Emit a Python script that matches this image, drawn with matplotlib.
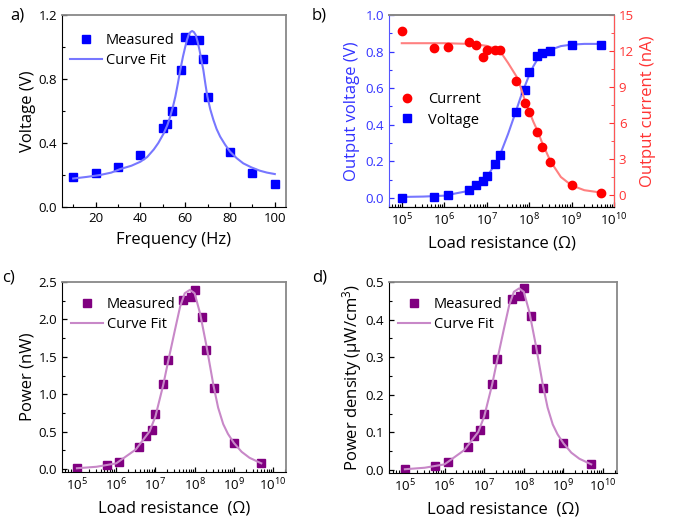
import numpy as np
import matplotlib
matplotlib.use('Agg')
import matplotlib.pyplot as plt
from matplotlib.ticker import MultipleLocator, LogLocator, NullFormatter

plt.rcParams['font.family'] = ['Open Sans', 'DejaVu Sans']
plt.rcParams['mathtext.fontset'] = 'custom'
plt.rcParams['mathtext.rm'] = 'Open Sans'
plt.rcParams['mathtext.it'] = 'Open Sans:italic'
plt.rcParams['xtick.direction'] = 'in'
plt.rcParams['ytick.direction'] = 'in'
plt.rcParams['xtick.labelsize'] = 9.5
plt.rcParams['ytick.labelsize'] = 9.5

# a) voltage vs frequency
freq = [10, 20, 30, 40, 50, 52, 54, 58, 60, 62, 66, 68, 70, 80, 90, 100]
volt = [0.185, 0.21, 0.253, 0.324, 0.493, 0.516, 0.60, 0.859, 1.063, 1.042,
        1.046, 0.922, 0.688, 0.341, 0.215, 0.145]
freq_fit = [10, 16, 22, 27, 31, 36, 40, 43, 46, 48, 50.4, 52, 53.3, 54.5, 55.6,
            56.7, 57.8, 59, 60, 60.8, 61.5, 62.3, 63.1, 63.9, 64.7, 65.5, 66.4,
            67.2, 68.1, 69, 69.9, 71.2, 72.6, 74, 75.6, 77.8, 80, 83, 85.9,
            89.5, 93.3, 96.5, 100]
volt_fit = [0.178, 0.188, 0.20, 0.215, 0.237, 0.258, 0.283, 0.312, 0.36, 0.40,
            0.46, 0.51, 0.565, 0.625, 0.69, 0.77, 0.856, 0.94, 1.0, 1.045,
            1.075, 1.093, 1.10, 1.093, 1.075, 1.035, 0.98, 0.92, 0.856, 0.77,
            0.69, 0.61, 0.544, 0.488, 0.44, 0.39, 0.346, 0.305, 0.273, 0.248,
            0.227, 0.215, 0.206]

# b, c, d) load resistance sweep
res = [1e5, 5.8e5, 1.2e6, 3.8e6, 5.7e6, 8e6, 1e7, 1.6e7, 2.1e7, 5e7, 8e7, 1e8,
       1.5e8, 2e8, 3.1e8, 1e9, 5e9]
out_volt = [0.0, 0.007, 0.017, 0.044, 0.07, 0.09, 0.12, 0.186, 0.237, 0.47,
            0.592, 0.691, 0.778, 0.794, 0.803, 0.838, 0.838]
out_curr = [13.63, 12.26, 12.35, 12.77, 12.51, 11.54, 12.07, 12.07, 12.07, 9.5,
            7.68, 6.9, 5.22, 4.02, 2.71, 0.84, 0.2]
power = [0.013, 0.054, 0.098, 0.299, 0.446, 0.522, 0.732, 1.134, 1.451, 2.254,
         2.295, 2.393, 2.027, 1.585, 1.08, 0.353, 0.076]
power_dens = [0.0036, 0.0116, 0.0205, 0.0606, 0.09, 0.106, 0.148, 0.23, 0.294,
              0.4545, 0.464, 0.485, 0.41, 0.321, 0.219, 0.072, 0.016]

# fitted curves
res_fit = [1e5, 3.2e5, 1e6, 3.2e6, 5.6e6, 1e7, 1.6e7, 2.1e7, 3.2e7, 5e7, 6.3e7,
           7.9e7, 1e8, 1.26e8, 1.6e8, 2e8, 3.2e8, 5.6e8, 1e9, 2e9, 5e9]
volt_fit_b = [0.005, 0.007, 0.012, 0.035, 0.06, 0.11, 0.19, 0.24, 0.35, 0.48,
              0.55, 0.61, 0.67, 0.72, 0.76, 0.785, 0.81, 0.83, 0.838, 0.842, 0.842]
curr_fit = [12.65, 12.65, 12.65, 12.6, 12.55, 12.43, 12.2, 11.95, 11.0, 9.9,
            9.0, 7.9, 7.0, 6.1, 5.3, 4.4, 2.8, 1.5, 0.8, 0.4, 0.2]

res_fit_p = [1e5, 3.16e5, 1e6, 3.16e6, 7.08e6, 1e7, 1.58e7, 2.14e7, 3.16e7,
             4.27e7, 5.62e7, 7.59e7, 1e8, 1.38e8, 2e8, 3.02e8, 3.98e8, 5.37e8,
             7.08e8, 1e9, 1.58e9, 2.51e9, 5.01e9]
power_fit = [0.01, 0.03, 0.075, 0.26, 0.5, 0.70, 1.12, 1.45, 1.86, 2.17, 2.35,
             2.395, 2.35, 2.08, 1.65, 1.12, 0.82, 0.6, 0.47, 0.35, 0.23, 0.15, 0.076]
dens_fit = [0.002, 0.006, 0.015, 0.053, 0.101, 0.142, 0.226, 0.293, 0.376,
            0.438, 0.474, 0.483, 0.474, 0.42, 0.333, 0.226, 0.166, 0.121,
            0.095, 0.071, 0.046, 0.03, 0.015]

W, H = 681, 522
fig = plt.figure(figsize=(W / 100, H / 100), dpi=100)


def box(l, t, r, b):
    return [l / W, (H - b) / H, (r - l) / W, (b - t) / H]


def style(ax, right_gray=True):
    for s in ['left', 'bottom']:
        ax.spines[s].set_color('black')
    ax.spines['top'].set_color('#888888')
    ax.spines['top'].set_linewidth(1.3)
    if right_gray:
        ax.spines['right'].set_color('#888888')
        ax.spines['right'].set_linewidth(1.3)
    ax.tick_params(which='major', length=3.5, width=0.9, top=False, right=False)
    ax.tick_params(which='minor', length=2, width=0.8, top=False, right=False)


def log_x(ax):
    ax.set_xscale('log')
    ax.xaxis.set_major_locator(LogLocator(base=10, numticks=10))
    ax.xaxis.set_minor_locator(LogLocator(base=10, subs=np.arange(2, 10), numticks=20))
    ax.xaxis.set_minor_formatter(NullFormatter())


blue = '#0000ff'
blue_fit = '#7777ff'
red = '#ff0000'
red_fit = '#ff8080'
purple = '#800080'
purple_fit = '#c888c8'
lab = 12
leg_kw = dict(loc='upper left', frameon=False, fontsize=10.5,
              handlelength=2.2, handletextpad=0.3, labelspacing=0.35)

# a)
ax1 = fig.add_axes(box(62, 15, 286, 207))
ax1.plot(freq, volt, 's', color=blue, ms=5.5, ls='none', label='Measured')
ax1.plot(freq_fit, volt_fit, '-', color=blue_fit, lw=1.5, label='Curve Fit')
ax1.set_xlim(5, 105)
ax1.set_ylim(0, 1.2)
ax1.xaxis.set_major_locator(MultipleLocator(20))
ax1.xaxis.set_minor_locator(MultipleLocator(10))
ax1.yaxis.set_major_locator(MultipleLocator(0.4))
ax1.yaxis.set_minor_locator(MultipleLocator(0.2))
ax1.yaxis.set_major_formatter(lambda v, p: f'{v:.1f}')
ax1.set_xlabel('Frequency (Hz)', fontsize=lab, labelpad=5)
ax1.set_ylabel('Voltage (V)', fontsize=lab, labelpad=1.5)
style(ax1)
ax1.legend(bbox_to_anchor=(-0.025, 0.975), **leg_kw)

# b)
ax2 = fig.add_axes(box(389, 15, 614, 207))
log_x(ax2)
ax2.plot(res_fit, volt_fit_b, '-', color=blue_fit, lw=1.5)
v_pts, = ax2.plot(res, out_volt, 's', color=blue, ms=5.5, ls='none', label='Voltage')
ax2.set_xlim(5e4, 1e10)
ax2.set_ylim(-0.05, 1.0)
ax2.yaxis.set_major_locator(MultipleLocator(0.2))
ax2.yaxis.set_minor_locator(MultipleLocator(0.1))
ax2.yaxis.set_major_formatter(lambda v, p: f'{v:.1f}')
ax2.set_xlabel('Load resistance (\u03a9)', fontsize=lab, labelpad=5)
ax2.set_ylabel('Output voltage (V)', fontsize=lab, color='#3333ff')
style(ax2, right_gray=False)
ax2.spines['left'].set_color('#5555ff')
ax2.tick_params(axis='y', which='both', colors='#3333ff')

ax2r = ax2.twinx()
ax2r.plot(res_fit, curr_fit, '-', color=red_fit, lw=1.5)
c_pts, = ax2r.plot(res, out_curr, 'o', color=red, ms=6, ls='none', label='Current')
ax2r.set_ylim(-1, 15)
ax2r.yaxis.set_major_locator(MultipleLocator(3))
ax2r.yaxis.set_minor_locator(MultipleLocator(1.5))
ax2r.set_ylabel('Output current (nA)', fontsize=lab, color='#ff3333')
ax2r.spines['right'].set_color('#ff5555')
ax2r.spines['left'].set_visible(False)
ax2r.spines['top'].set_color('#888888')
ax2r.spines['top'].set_linewidth(1.3)
ax2r.tick_params(axis='y', which='major', length=3.5, colors='#ff3333')
ax2r.tick_params(axis='y', which='minor', length=2, colors='#ff3333')
ax2.legend(handles=[c_pts, v_pts], loc='upper left', bbox_to_anchor=(-0.045, 0.665),
           frameon=False, fontsize=10.5, handletextpad=0.5, labelspacing=0.35)

# c)
ax3 = fig.add_axes(box(62, 282, 286, 472))
log_x(ax3)
ax3.plot(res, power, 's', color=purple, ms=5.5, ls='none', label='Measured')
ax3.plot(res_fit_p, power_fit, '-', color=purple_fit, lw=1.5, label='Curve Fit')
ax3.set_xlim(10 ** 4.62, 10 ** 10.33)
ax3.set_ylim(-0.04, 2.5)
ax3.yaxis.set_major_locator(MultipleLocator(0.5))
ax3.yaxis.set_minor_locator(MultipleLocator(0.25))
ax3.yaxis.set_major_formatter(lambda v, p: f'{v:.1f}')
ax3.set_xlabel('Load resistance  (\u03a9)', fontsize=lab, labelpad=5)
ax3.set_ylabel('Power (nW)', fontsize=lab, labelpad=2)
style(ax3)
ax3.legend(bbox_to_anchor=(-0.02, 0.99), **leg_kw)

# d)
ax4 = fig.add_axes(box(389, 282, 617, 473))
log_x(ax4)
ax4.plot(res, power_dens, 's', color=purple, ms=5.5, ls='none', label='Measured')
ax4.plot(res_fit_p, dens_fit, '-', color=purple_fit, lw=1.5, label='Curve Fit')
ax4.set_xlim(10 ** 4.6, 10 ** 10.35)
ax4.set_ylim(-0.008, 0.5)
ax4.yaxis.set_major_locator(MultipleLocator(0.1))
ax4.yaxis.set_minor_locator(MultipleLocator(0.05))
ax4.yaxis.set_major_formatter(lambda v, p: f'{v:.1f}')
ax4.set_xlabel('Load resistance  (\u03a9)', fontsize=lab, labelpad=5)
ax4.set_ylabel('Power density (\u03bcW/cm$^3$)', fontsize=lab, labelpad=1)
style(ax4)
ax4.legend(bbox_to_anchor=(-0.02, 0.99), **leg_kw)

# panel letters
for txt, x, y in [('a)', 10, 15), ('b)', 312, 15), ('c)', 2, 278), ('d)', 312, 278)]:
    fig.text(x / W, 1 - y / H, txt, fontsize=12, va='center', ha='left')

fig.savefig('out.png', dpi=100)
